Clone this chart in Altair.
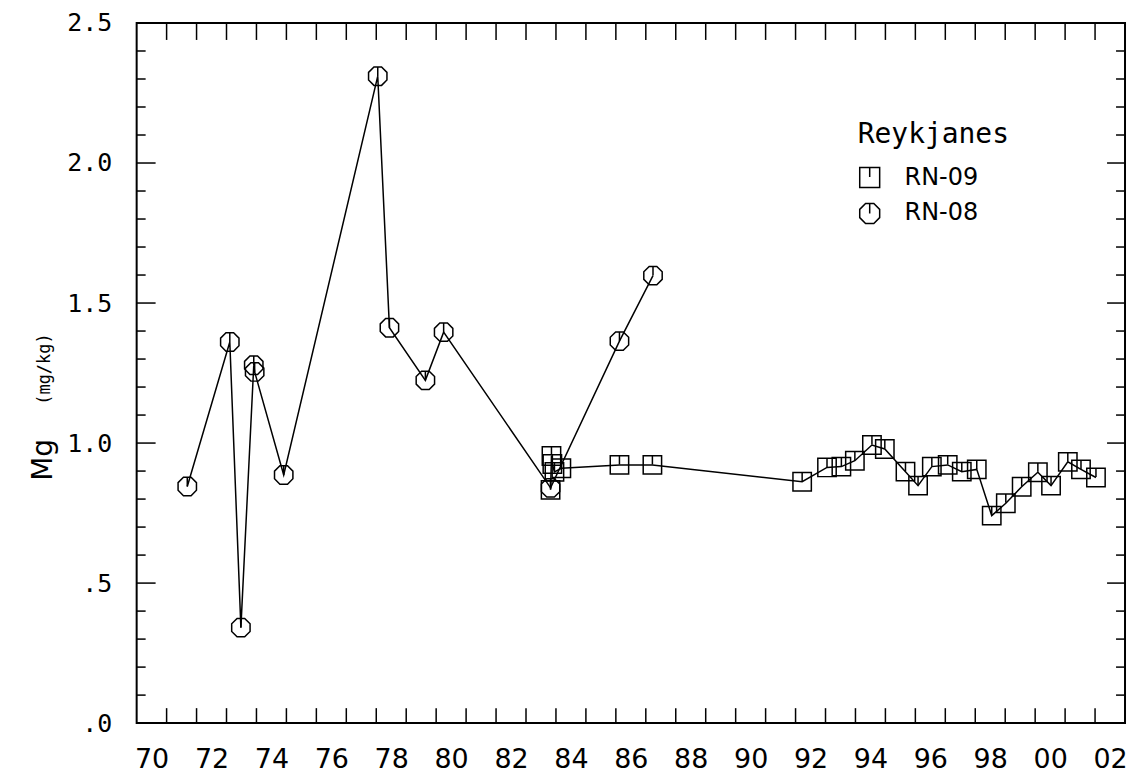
import altair as alt
import pandas as pd

# ---- data ----
rn08_year = [71.69, 73.11, 73.48, 73.91, 73.94, 74.91, 78.05, 78.44, 79.64, 80.25, 83.82, 86.12, 87.24]
rn08_mg = [0.845, 1.361, 0.341, 1.278, 1.254, 0.886, 2.310, 1.412, 1.224, 1.396, 0.840, 1.364, 1.598]

rn09_year = [83.82, 83.85, 83.88, 83.95, 84.18, 86.12, 87.22, 92.22, 93.05, 93.53, 93.98,
             94.55, 94.98, 95.67, 96.09, 96.55, 97.08, 97.55, 98.05, 98.55, 99.02, 99.55,
             100.09, 100.53, 101.09, 101.53, 102.03]
rn09_mg = [0.833, 0.954, 0.925, 0.897, 0.910, 0.922, 0.922, 0.862, 0.913, 0.916, 0.937,
           0.993, 0.979, 0.898, 0.848, 0.916, 0.922, 0.898, 0.906, 0.741, 0.785, 0.844,
           0.896, 0.848, 0.933, 0.906, 0.877]

wells = ["RN-09", "RN-08"]
legend_title = "Reykjanes"
y_title_main = ["Mg"]
y_title_unit = ["(mg/kg)"]

x_domain = [70, 103]
y_domain = [0, 2.5]
x_tick_years = list(range(71, 103))
x_label_pos = [y + 0.5 for y in range(70, 103, 2)]
y_label_vals = [0.0, 0.5, 1.0, 1.5, 2.0, 2.5]
y_minor = [round(0.1 * i, 1) for i in range(1, 25) if i % 5 != 0]
y_major = [0.5, 1.0, 1.5, 2.0]

# ---- layout / style ----
W, H = 991, 702
FONT = "DejaVu Sans"
MONO = "DejaVu Sans Mono"

SQ = "M-1,-1L1,-1L1,1L-1,1Z M0,-1L0,-0.05"
OCT = "M-0.414,-1L0.414,-1L1,-0.414L1,0.414L0.414,1L-0.414,1L-1,0.414L-1,-0.414Z M0,-1L0,0"

df = pd.concat([
    pd.DataFrame({"year": rn09_year, "mg": rn09_mg, "well": "RN-09"}),
    pd.DataFrame({"year": rn08_year, "mg": rn08_mg, "well": "RN-08"}),
], ignore_index=True)

xs = alt.Scale(domain=x_domain, nice=False, zero=False)
ys = alt.Scale(domain=y_domain, nice=False, zero=False)

x_axis = alt.Axis(values=x_label_pos, labelExpr="format(floor(datum.value) % 100, '02d')",
                  ticks=False, domain=False, grid=False, title=None, labelFont=FONT,
                  labelFontSize=27, labelPadding=24, labelColor="black", labelFlush=False,
                  labelOverlap=False)
y_axis = alt.Axis(values=y_label_vals,
                  labelExpr="datum.value < 1 ? '.' + format(datum.value * 10, 'd') : format(datum.value, '.1f')",
                  ticks=False, domain=False, grid=False, title=None, labelFont=MONO,
                  labelFontSize=25, labelPadding=25, labelColor="black", labelFlush=False,
                  labelOverlap=False)

line = alt.Chart(df).mark_line(color="black", strokeWidth=1.5).encode(
    x=alt.X("year:Q", scale=xs, axis=x_axis),
    y=alt.Y("mg:Q", scale=ys, axis=y_axis),
    detail="well:N",
)

points = alt.Chart(df).mark_point(filled=False, color="black", strokeWidth=1.5, size=340, opacity=1).encode(
    x=alt.X("year:Q", scale=xs),
    y=alt.Y("mg:Q", scale=ys),
    shape=alt.Shape("well:N", scale=alt.Scale(domain=wells, range=[SQ, OCT]),
                    legend=alt.Legend(title=legend_title, orient="none", legendX=723, legendY=98,
                                      titleFont=MONO, titleFontSize=28, titleFontWeight="normal",
                                      titleColor="black", titlePadding=17,
                                      labelFont=FONT, labelFontSize=24, labelColor="black",
                                      symbolSize=400, symbolStrokeWidth=1.5,
                                      symbolStrokeColor="black", rowPadding=10,
                                      labelOffset=23, padding=0)),
)

tx = pd.DataFrame({"year": x_tick_years})
bottom_ticks = alt.Chart(tx).mark_rule(color="black", strokeWidth=1.5).encode(
    x=alt.X("year:Q", scale=xs), y=alt.value(H), y2=alt.value(H - 15))
top_ticks = alt.Chart(tx).mark_rule(color="black", strokeWidth=1.5).encode(
    x=alt.X("year:Q", scale=xs), y=alt.value(0), y2=alt.value(17))

tmin = pd.DataFrame({"mg": y_minor})
tmaj = pd.DataFrame({"mg": y_major})
left_minor = alt.Chart(tmin).mark_rule(color="black", strokeWidth=1.5).encode(
    y=alt.Y("mg:Q", scale=ys), x=alt.value(0), x2=alt.value(9))
left_major = alt.Chart(tmaj).mark_rule(color="black", strokeWidth=1.5).encode(
    y=alt.Y("mg:Q", scale=ys), x=alt.value(0), x2=alt.value(19))
right_minor = alt.Chart(tmin).mark_rule(color="black", strokeWidth=1.5).encode(
    y=alt.Y("mg:Q", scale=ys), x=alt.value(W), x2=alt.value(W - 9))
right_major = alt.Chart(tmaj).mark_rule(color="black", strokeWidth=1.5).encode(
    y=alt.Y("mg:Q", scale=ys), x=alt.value(W), x2=alt.value(W - 18))

title_main = alt.Chart(pd.DataFrame({"t": y_title_main})).mark_text(
    font=FONT, fontSize=28, angle=270, color="black", align="center", baseline="middle").encode(
    text="t:N", x=alt.value(-93), y=alt.value(438))
title_unit = alt.Chart(pd.DataFrame({"t": y_title_unit})).mark_text(
    font=MONO, fontSize=17, angle=270, color="black", align="center", baseline="middle").encode(
    text="t:N", x=alt.value(-92), y=alt.value(347))

chart = alt.layer(
    line, points, bottom_ticks, top_ticks, left_minor, left_major, right_minor, right_major,
    title_main, title_unit,
).properties(
    width=W, height=H,
    background="white",
    autosize=alt.AutoSizeParams(type="none"),
    padding={"left": 129, "top": 14, "right": 4, "bottom": 52},
).configure_view(stroke="black", strokeWidth=2)

chart.save("out.html", embed_options={"renderer": "svg", "actions": False})
